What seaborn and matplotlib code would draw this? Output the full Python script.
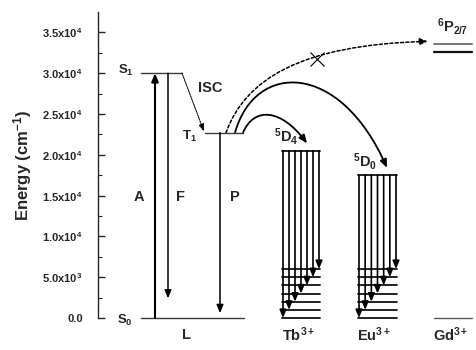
import numpy as np
import pandas as pd
import matplotlib
matplotlib.use("Agg")
import matplotlib.pyplot as plt
import seaborn as sns
from matplotlib.patches import FancyArrowPatch
from matplotlib.path import Path

# ---- energy levels (cm^-1) ----
lig_S0 = 0
lig_S1 = 30000
lig_T1 = 22700
fluor_end = 2400          # end of the F arrow
phos_end = 600            # end of the P arrow
tb_5D4 = 20500
tb_7F = [0, 1000, 2000, 3000, 4000, 5000, 6000]
eu_5D0 = 17500
eu_7F = [0, 1000, 2000, 3000, 4000, 5000, 6000]
gd_ground = 0
gd_6P = [32600, 33600]

ytick_values = [0, 5000, 10000, 15000, 20000, 25000, 30000, 35000]
ytick_labels = ["0.0", "5.0x10$^{3}$", "1.0x10$^{4}$", "1.5x10$^{4}$",
                "2.0x10$^{4}$", "2.5x10$^{4}$", "3.0x10$^{4}$", "3.5x10$^{4}$"]
ion_names = ["L", "Tb$^{3+}$", "Eu$^{3+}$", "Gd$^{3+}$"]

# ---- style ----
sns.set_style("ticks")
plt.rcParams["font.family"] = ["Liberation Sans", "DejaVu Sans"]
plt.rcParams["font.weight"] = "bold"
plt.rcParams["mathtext.fontset"] = "custom"
for k in ("rm", "it", "bf", "sf"):
    plt.rcParams[f"mathtext.{k}"] = "Liberation Sans:bold"
plt.rcParams["mathtext.default"] = "rm"

fig = plt.figure(figsize=(4.77, 3.5), dpi=100)
ax = fig.add_axes([98 / 477, 32 / 350, 379 / 477, 306 / 350])
ax.set_xlim(0, 37.9)
ax.set_ylim(0, 37500)

# ---- horizontal levels (x extents are column layout) ----
def seg_frame(items):
    rows = []
    for i, (x0, x1, e) in enumerate(items):
        rows.append({"seg": i, "x": x0, "E": e})
        rows.append({"seg": i, "x": x1, "E": e})
    return pd.DataFrame(rows)

ligand_segs = seg_frame([(4.3, 8.4, lig_S1), (4.3, 14.6, lig_S0), (10.7, 14.5, lig_T1)])
tb_segs = seg_frame([(18.4, 22.2, tb_5D4)] + [(18.4, 22.2, e) for e in tb_7F])
eu_segs = seg_frame([(26.0, 29.9, eu_5D0)] + [(26.0, 29.9, e) for e in eu_7F])
gd_low = seg_frame([(33.6, 37.4, gd_ground)])
gd_top = seg_frame([(33.6, 37.4, gd_6P[0])])
gd_up = seg_frame([(33.6, 37.4, gd_6P[1])])

common = dict(x="x", y="E", units="seg", estimator=None, sort=False, ax=ax, legend=False)
sns.lineplot(data=ligand_segs, color="#3a3a3a", lw=1.0, **common)
sns.lineplot(data=tb_segs, color="#111111", lw=1.3, **common)
sns.lineplot(data=eu_segs, color="#111111", lw=1.3, **common)
sns.lineplot(data=gd_low, color="#555555", lw=1.0, **common)
sns.lineplot(data=gd_top, color="#111111", lw=1.6, **common)
sns.lineplot(data=gd_up, color="#777777", lw=1.4, **common)
for ln in ax.lines:
    ln.set_clip_on(False)

head = "-|>,head_length=0.6,head_width=0.25"

def varrow(x, e0, e1, lw=1.2, style=head, ms=8, ls="-"):
    ax.annotate("", xy=(x, e1), xytext=(x, e0), annotation_clip=False,
                arrowprops=dict(arrowstyle=style, color="k", lw=lw, ls=ls,
                                shrinkA=0, shrinkB=0, mutation_scale=ms))

# absorption, fluorescence, phosphorescence
varrow(5.7, lig_S0, lig_S1, lw=1.5)
varrow(7.0, lig_S1, fluor_end, lw=1.1)
varrow(12.2, lig_T1, phos_end, lw=1.1)

# intersystem crossing
ax.annotate("", xy=(10.6, lig_T1 + 150), xytext=(8.4, lig_S1),
            arrowprops=dict(arrowstyle="-|>,head_length=0.6,head_width=0.22",
                            color="k", lw=0.8, ls=(0, (1, 1)),
                            shrinkA=0, shrinkB=0, mutation_scale=7))

# lanthanide emissions
for x, e in zip(np.linspace(18.5, 22.1, 7), tb_7F):
    varrow(x, tb_5D4, e, lw=1.2)
for x, e in zip(np.linspace(26.1, 29.8, 7), eu_7F):
    varrow(x, eu_5D0, e, lw=1.2)

# energy-transfer curves (cubic Bezier paths)
def curve(p0, c1, c2, p3, ls="-", lw=1.3):
    path = Path([p0, c1, c2, p3], [Path.MOVETO, Path.CURVE4, Path.CURVE4, Path.CURVE4])
    arr = FancyArrowPatch(path=path, arrowstyle="-|>,head_length=0.6,head_width=0.25",
                          mutation_scale=8, color="k", lw=lw, ls=ls, clip_on=False)
    ax.add_patch(arr)

curve((14.5, lig_T1), (15.6, 25900), (18.3, 25700), (20.9, tb_5D4 + 900))
curve((13.7, lig_T1), (15.7, 31500), (24.2, 31500), (28.9, eu_5D0 + 900))
curve((12.8, lig_T1), (14.7, 29200), (20.2, 33500), (33.0, 33900), ls=(0, (2, 1.5)), lw=1.1)
ax.plot([21.9], [31800], marker="x", ms=10, mew=0.8, color="k", clip_on=False)

# ---- labels ----
def label(x, e, s, size=10, ha="center", va="center"):
    ax.text(x, e, s, fontsize=size, fontweight="bold", ha=ha, va=va, clip_on=False)

label(3.6, 30330, "S$_{1}$", 9.5, ha="right")
label(3.5, -250, "S$_{0}$", 9.5, ha="right")
label(9.9, 22250, "T$_{1}$", 9.5, ha="right")
label(11.25, 28210, "ISC", 10.5)
label(4.07, 14860, "A", 10.5)
label(8.3, 14860, "F", 10.5)
label(13.7, 14860, "P", 10.5)
label(18.8, 22300, "$^{5}$D$_{4}$", 10.5)
label(26.7, 19220, "$^{5}$D$_{0}$", 10.5)
label(35.45, 35740, "$^{6}$P$_{2/7}$", 10.5)
for x, name in zip([8.9, 20.1, 27.6, 35.3], ion_names):
    label(x, -2050, name, 10.5)

# ---- axes ----
sns.despine(ax=ax, top=True, right=True, bottom=True)
ax.spines["left"].set_linewidth(1.0)
ax.set_xticks([])
ax.set_yticks(ytick_values)
ax.set_yticklabels(ytick_labels)
ax.set_yticks(np.arange(2500, 37500, 5000), minor=True)
ax.tick_params(axis="y", which="major", direction="in", length=5, width=1,
               labelsize=8, pad=11)
ax.tick_params(axis="y", which="minor", direction="in", length=3, width=0.8)
for t in ax.get_yticklabels():
    t.set_fontweight("bold")
ax.set_ylabel("Energy (cm$^{-1}$)", fontsize=12, fontweight="bold")
ax.yaxis.set_label_coords(-0.17, 0.5)
ax.set_xlabel("")

fig.savefig("out.png", dpi=100)
